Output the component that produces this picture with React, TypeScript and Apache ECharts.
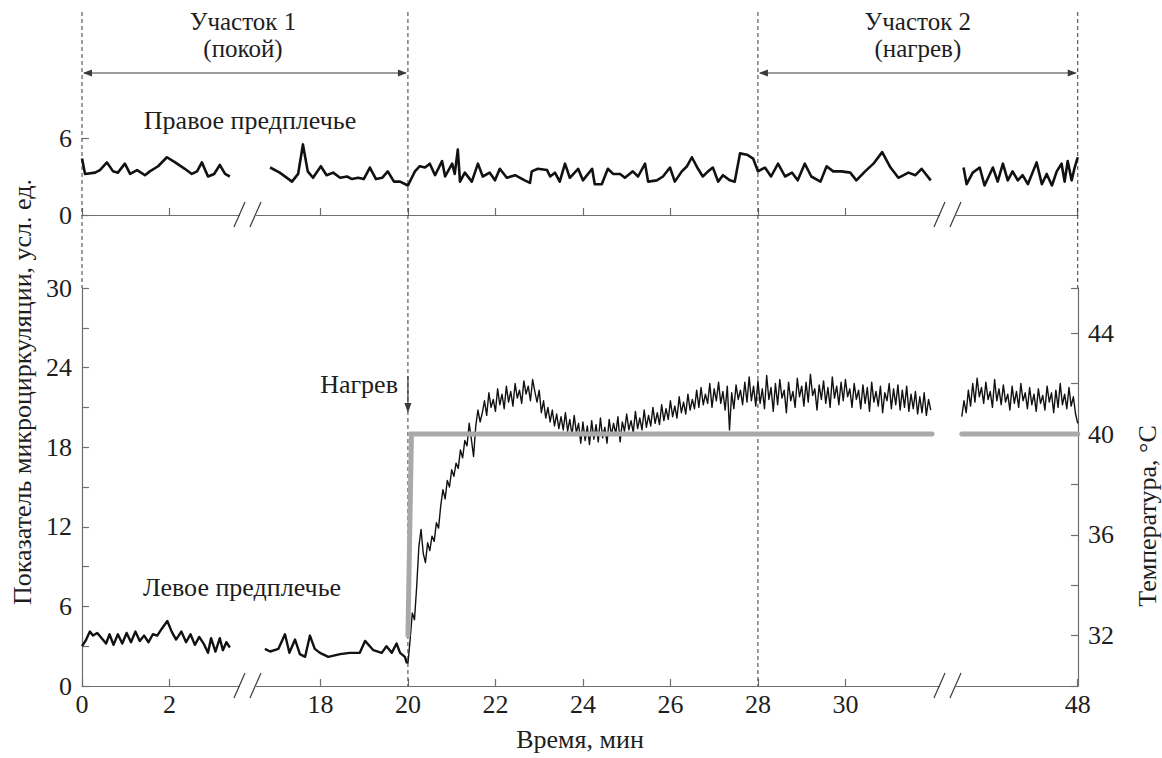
import React, { useEffect, useRef } from "react";
import * as echarts from "echarts";

const FONT = "'Liberation Serif', 'Times New Roman', serif";
const TEXT = "#1e1e1e";
const AXIS = "#6e6e6e";

// ---- broken time axis (real minutes -> compressed axis position) ----
const SEG_B_OFFSET = 12.55;
const SEG_C_OFFSET = 25.24;
const BREAK1_V = 3.794;
const BREAK2_V = 19.794;
const X_MAX_V = 22.766;
const toV = (t: number) => (t < 10 ? t : t < 40 ? t - SEG_B_OFFSET : t - SEG_C_OFFSET);
const fromV = (v: number) => (v < BREAK1_V ? v : v < BREAK2_V ? v + SEG_B_OFFSET : v + SEG_C_OFFSET);

const X_TICKS = [0, 2, 18, 20, 22, 24, 26, 28, 30, 48];
const MARK_TIMES = [0, 20, 28, 48];
const HEAT_START = 20;

// ---- Правое предплечье (top), [min, value] ----
const rightA: number[][] = [
  [0, 4.4], [0.07, 3.2], [0.3, 3.3], [0.41, 3.5], [0.57, 4.1], [0.71, 3.4], [0.82, 3.3], [0.98, 4.0],
  [1.1, 3.2], [1.26, 3.5], [1.44, 3.1], [1.55, 3.4], [1.74, 3.8], [1.94, 4.5], [2.13, 4.1], [2.35, 3.6],
  [2.51, 3.2], [2.63, 3.4], [2.74, 4.1], [2.88, 3.0], [3.02, 3.2], [3.15, 3.9], [3.27, 3.2], [3.38, 3.0],
];
const rightB: number[][] = [
  [16.85, 3.7], [17.07, 3.3], [17.35, 2.6], [17.49, 3.2], [17.6, 5.5], [17.71, 3.4], [17.83, 2.9], [18.01, 3.8],
  [18.14, 3.1], [18.29, 3.3], [18.45, 2.9], [18.61, 3.0], [18.72, 2.8], [18.86, 2.9], [18.99, 2.8], [19.13, 3.7],
  [19.27, 2.8], [19.41, 2.9], [19.54, 3.4], [19.68, 2.6], [19.82, 2.6], [20.0, 2.3], [20.16, 3.4], [20.27, 3.8],
  [20.39, 3.7], [20.5, 4.0], [20.62, 3.1], [20.78, 4.2], [20.85, 3.0], [21.01, 4.0], [21.07, 3.2], [21.14, 5.1],
  [21.19, 2.6], [21.3, 3.3], [21.46, 2.6], [21.6, 4.0], [21.71, 3.0], [21.87, 3.3], [21.99, 2.7], [22.1, 3.6],
  [22.26, 2.9], [22.45, 3.1], [22.67, 2.7], [22.79, 2.5], [22.83, 3.4], [22.97, 3.6], [23.18, 3.5], [23.25, 3.0],
  [23.36, 3.3], [23.47, 2.6], [23.59, 4.0], [23.7, 2.9], [23.89, 3.6], [24.0, 2.7], [24.21, 3.6], [24.27, 2.4],
  [24.43, 2.4], [24.57, 3.6], [24.69, 3.2], [24.85, 3.2], [24.96, 2.9], [25.14, 3.4], [25.26, 3.0], [25.42, 4.0],
  [25.49, 2.6], [25.69, 2.7], [25.83, 3.0], [25.99, 3.7], [26.1, 2.6], [26.26, 3.4], [26.38, 3.8], [26.49, 4.5],
  [26.63, 3.6], [26.74, 3.0], [26.86, 3.4], [26.97, 3.7], [27.09, 2.6], [27.2, 3.1], [27.36, 2.7], [27.47, 2.6],
  [27.59, 4.8], [27.75, 4.7], [27.89, 4.4], [28.0, 3.4], [28.16, 3.7], [28.3, 3.0], [28.46, 4.0], [28.62, 3.0],
  [28.78, 3.3], [28.91, 2.7], [29.07, 4.0], [29.22, 3.0], [29.43, 2.6], [29.57, 3.8], [29.72, 3.4], [29.91, 3.4],
  [30.11, 3.3], [30.25, 2.7], [30.45, 3.4], [30.64, 4.0], [30.84, 4.9], [31.03, 3.7], [31.21, 2.9], [31.44, 3.3],
  [31.6, 3.1], [31.74, 3.6], [31.95, 2.7],
];
const rightC: number[][] = [
  [45.39, 3.7], [45.46, 2.4], [45.6, 3.3], [45.76, 3.7], [45.87, 2.3], [46.06, 3.7], [46.17, 2.6], [46.29, 4.0],
  [46.4, 2.7], [46.51, 3.4], [46.63, 2.7], [46.74, 3.1], [46.86, 2.4], [47.06, 4.1], [47.18, 2.4], [47.29, 3.2],
  [47.41, 2.3], [47.52, 3.4], [47.63, 4.0], [47.7, 2.6], [47.77, 4.2], [47.86, 2.7], [47.93, 3.7], [48.0, 4.5],
];

// ---- Левое предплечье (bottom), [min, value] ----
const leftA: number[][] = [
  [0, 3.0], [0.08, 3.4], [0.18, 4.1], [0.25, 3.8], [0.35, 4.0], [0.45, 3.6], [0.55, 3.2], [0.63, 3.9],
  [0.72, 3.1], [0.82, 3.9], [0.92, 3.2], [1.02, 4.0], [1.12, 3.3], [1.22, 4.1], [1.32, 3.4], [1.42, 3.8],
  [1.52, 3.3], [1.62, 3.9], [1.72, 3.8], [1.82, 4.3], [1.95, 4.9], [2.05, 4.1], [2.15, 3.5], [2.27, 4.1],
  [2.38, 3.3], [2.48, 3.9], [2.58, 3.1], [2.68, 3.7], [2.78, 3.2], [2.88, 2.5], [2.95, 3.6], [3.05, 2.6],
  [3.15, 3.6], [3.22, 2.7], [3.3, 3.3], [3.38, 2.9],
];
const leftRest: number[][] = [
  [16.73, 2.8], [16.85, 2.6], [17.04, 2.8], [17.19, 3.9], [17.29, 2.5], [17.42, 3.5], [17.53, 2.4], [17.65, 2.2],
  [17.76, 3.8], [17.87, 2.8], [17.99, 2.5], [18.18, 2.2], [18.45, 2.4], [18.67, 2.5], [18.9, 2.5], [19.02, 3.4],
  [19.21, 2.7], [19.4, 2.5], [19.51, 3.0], [19.63, 2.5], [19.74, 3.2], [19.82, 2.5], [19.93, 2.2], [19.98, 1.7],
];
// heating period, sampled every 0.05 min from 20.00
const HEAT_T0 = 20.0;
const HEAT_C_T0 = 45.35;
const SAMPLE_STEP = 0.05;
const leftHeat: number[] = [
  1.7, 3.5, 5.5, 5.0, 7.5, 10.5, 11.8, 10.0, 9.3, 10.8, 10.2, 11.3, 10.9, 12.3, 11.9, 13.6, 14.8, 14.1, 15.5, 15.0,
  16.3, 15.8, 16.8, 16.4, 17.8, 17.2, 18.5, 18.1, 19.8, 18.6, 17.3, 19.6, 20.8, 19.9, 20.6, 21.5, 20.4, 22.1, 21.0, 21.6,
  20.7, 22.4, 21.2, 22.0, 20.9, 22.6, 21.4, 22.2, 21.1, 22.8, 21.7, 22.3, 21.3, 23.0, 22.0, 22.6, 21.5, 23.1, 22.2, 21.4,
  22.3, 20.6, 21.5, 20.2, 21.0, 19.9, 20.8, 19.6, 20.5, 19.4, 20.3, 19.3, 20.6, 19.2, 20.1, 18.9, 20.4, 19.1, 19.8, 18.3,
  19.9, 18.5, 19.6, 18.2, 20.0, 18.6, 19.7, 18.4, 20.2, 18.7, 19.5, 18.3, 20.1, 18.9, 19.8, 19.0, 20.3, 18.4, 19.9, 19.2,
  20.5, 19.3, 20.0, 19.1, 20.7, 19.4, 20.2, 19.3, 20.8, 19.5, 20.4, 19.6, 21.0, 19.8, 20.6, 19.7, 21.2, 20.0, 20.9, 20.1,
  21.5, 20.3, 21.1, 20.2, 21.8, 20.6, 21.4, 20.5, 22.0, 20.8, 21.6, 20.9, 22.3, 21.0, 22.5, 21.2, 22.0, 21.3, 22.8, 21.0,
  22.4, 21.5, 22.9, 21.3, 22.2, 20.8, 22.6, 19.3, 22.1, 20.9, 22.7, 21.6, 22.3, 21.2, 22.9, 21.4, 23.3, 21.5, 22.6, 21.1,
  23.0, 21.3, 22.4, 20.9, 23.4, 21.6, 22.5, 20.7, 22.8, 21.2, 23.1, 21.7, 22.3, 20.6, 22.9, 21.5, 22.2, 21.0, 23.2, 21.8,
  22.6, 21.1, 22.9, 21.4, 23.5, 21.9, 22.4, 20.8, 22.7, 21.6, 23.0, 21.3, 22.5, 21.0, 23.3, 21.7, 22.6, 21.2, 22.9, 21.5,
  23.1, 21.8, 22.4, 21.0, 22.8, 21.6, 22.3, 20.9, 22.7, 21.3, 22.5, 20.7, 22.9, 21.4, 22.2, 21.1, 22.6, 20.6, 22.1, 21.5,
  22.8, 20.9, 22.4, 21.2, 22.7, 20.8, 22.3, 21.0, 22.6, 20.7, 22.0, 20.9, 22.2, 20.5, 21.8, 20.6, 22.1, 20.4, 21.6, 20.8,
];
const leftC: number[] = [
  20.3, 21.5, 20.6, 22.3, 21.1, 22.8, 21.4, 23.2, 21.8, 22.5, 21.3, 22.9, 21.6, 22.2, 21.0, 23.1, 21.5, 22.4, 21.2, 22.7,
  21.4, 22.0, 20.8, 22.6, 21.3, 22.2, 21.0, 22.8, 21.5, 22.1, 20.9, 22.5, 21.2, 22.0, 20.7, 22.4, 21.3, 21.9, 20.8, 22.6,
  21.4, 22.1, 20.6, 22.3, 21.0, 22.8, 21.2, 22.0, 20.9, 22.5, 21.1, 21.8, 20.5, 19.8,
];

// ---- temperature, °C ----
const tempB: number[][] = [[20.0, 32], [20.08, 40], [31.98, 40]];
const tempC: number[][] = [[45.35, 40], [48.0, 40]];

const sampled = (t0: number, vals: number[]) => vals.map((v, i) => [t0 + i * SAMPLE_STEP, v]);
const mapV = (pts: number[][]) => pts.map(([t, v]) => [toV(t), v]);

const labelStyle = { fontFamily: FONT, fontSize: 26, color: TEXT };

export default function App() {
  const ref = useRef<HTMLDivElement>(null);
  useEffect(() => {
    if (!ref.current) return;
    const chart = echarts.init(ref.current, null, { renderer: "svg" });
    const tickVals = X_TICKS.map(toV);
    const xBase = (gridIndex: number, labels: boolean) => ({
      type: "value",
      gridIndex,
      min: 0,
      max: X_MAX_V,
      axisLine: { show: true, lineStyle: { color: AXIS, width: 1.2 } },
      axisTick: { show: true, inside: true, length: 7, customValues: tickVals, lineStyle: { color: AXIS, width: 1.2 } },
      axisLabel: {
        show: labels,
        customValues: tickVals,
        margin: 5,
        formatter: (v: number) => String(Math.round(fromV(v))),
        ...labelStyle,
      },
      splitLine: { show: false },
    });
    const black = (xi: number, yi: number, data: number[][], width: number, z = 3) => ({
      type: "line",
      xAxisIndex: xi,
      yAxisIndex: yi,
      data: mapV(data),
      showSymbol: false,
      symbol: "none",
      z,
      lineStyle: { color: "#111", width, join: "round" },
      silent: true,
    });
    const gray = (data: number[][]) => ({
      type: "line",
      xAxisIndex: 1,
      yAxisIndex: 2,
      data: mapV(data),
      showSymbol: false,
      symbol: "none",
      z: 5,
      lineStyle: { color: "#a9a9a9", width: 5, cap: "round", join: "miter" },
      silent: true,
    });
    chart.setOption({
      animation: false,
      backgroundColor: "#fff",
      grid: [
        { left: 82, right: 84, top: 138, height: 77 },
        { left: 82, right: 84, top: 288, height: 398 },
      ],
      xAxis: [
        { ...xBase(0, false) },
        {
          ...xBase(1, true),
          name: "Время, мин",
          nameLocation: "middle",
          nameGap: 40,
          nameTextStyle: labelStyle,
        },
      ],
      yAxis: [
        {
          type: "value",
          gridIndex: 0,
          min: 0,
          max: 6,
          interval: 6,
          axisLine: { show: false },
          axisTick: { show: true, inside: true, length: 7, lineStyle: { color: AXIS, width: 1.2 } },
          axisLabel: { margin: 10, ...labelStyle },
          splitLine: { show: false },
        },
        {
          type: "value",
          gridIndex: 1,
          min: 0,
          max: 30,
          interval: 3,
          axisLine: { show: true, lineStyle: { color: AXIS, width: 1.2 } },
          axisTick: { show: true, inside: true, length: 7, lineStyle: { color: AXIS, width: 1.2 } },
          axisLabel: { margin: 10, formatter: (v: number) => (v % 6 === 0 ? String(v) : ""), ...labelStyle },
          splitLine: { show: false },
        },
        {
          type: "value",
          gridIndex: 1,
          position: "right",
          min: 30,
          max: 45.8,
          interval: 2,
          axisLine: { show: true, lineStyle: { color: AXIS, width: 1.2 } },
          axisTick: { show: true, inside: true, length: 7, lineStyle: { color: AXIS, width: 1.2 } },
          axisLabel: {
            margin: 10,
            formatter: (v: number) => (v >= 32 && (v - 32) % 4 === 0 ? String(v) : ""),
            ...labelStyle,
          },
          splitLine: { show: false },
        },
      ],
      series: [
        black(0, 0, rightA, 2.6),
        black(0, 0, rightB, 2.6),
        black(0, 0, rightC, 2.6),
        black(1, 1, leftA, 2.4),
        black(1, 1, leftRest, 2.4),
        black(1, 1, sampled(HEAT_T0, leftHeat), 1.4),
        black(1, 1, sampled(HEAT_C_T0, leftC), 1.4),
        gray(tempB),
        gray(tempC),
      ],
    });

    // ---- annotations positioned through the axes ----
    const px = (t: number) => chart.convertToPixel({ xAxisIndex: 1 }, toV(t)) as number;
    const pv = (v: number) => chart.convertToPixel({ xAxisIndex: 1 }, v) as number;
    const yTop = (v: number) => chart.convertToPixel({ yAxisIndex: 0 }, v) as number;
    const yBot = (v: number) => chart.convertToPixel({ yAxisIndex: 1 }, v) as number;
    const LINE = "#3a3a3a";
    const g: any[] = [];
    const TOP_Y = 12;
    // dashed markers
    MARK_TIMES.forEach((t) => {
      const bottom = t === 0 || t === 48 ? yBot(30) : yBot(0);
      g.push({
        type: "line",
        z: 1,
        shape: { x1: px(t), y1: TOP_Y, x2: px(t), y2: bottom },
        style: { stroke: LINE, lineWidth: 1, lineDash: [4, 3] },
      });
    });
    // range arrows
    const arrowY = 73;
    const hArrow = (a: number, b: number) => {
      g.push({ type: "line", z: 10, shape: { x1: a + 2, y1: arrowY, x2: b - 2, y2: arrowY }, style: { stroke: LINE, lineWidth: 1.2 } });
      g.push({ type: "polygon", z: 10, shape: { points: [[a + 1, arrowY], [a + 10, arrowY - 3.5], [a + 10, arrowY + 3.5]] }, style: { fill: LINE } });
      g.push({ type: "polygon", z: 10, shape: { points: [[b - 1, arrowY], [b - 10, arrowY - 3.5], [b - 10, arrowY + 3.5]] }, style: { fill: LINE } });
    };
    hArrow(px(0), px(20));
    hArrow(px(28), px(48));
    const text = (x: number, y: number, s: string, align = "center", rotation = 0, size = 26) =>
      g.push({
        type: "text",
        z: 10,
        x,
        y,
        rotation,
        style: { text: s, x: 0, y: 0, fill: TEXT, font: `${size}px ${FONT}`, align, verticalAlign: "middle" },
      });
    const c1 = (px(0) + px(20)) / 2 - 2;
    const c2 = (px(28) + px(48)) / 2;
    text(c1, 21, "Участок 1", "center", 0, 25);
    text(c1, 48, "(покой)", "center", 0, 25);
    text(c2, 21, "Участок 2", "center", 0, 25);
    text(c2, 48, "(нагрев)", "center", 0, 25);
    text(250, 120, "Правое предплечье");
    text(242, 587, "Левое предплечье");
    text(px(HEAT_START) - 10, 384, "Нагрев", "right");
    text(22, 392, "Показатель микроциркуляции, усл. ед.", "center", Math.PI / 2);
    text(1147, 516, "Температура, °С", "center", Math.PI / 2);
    // heating arrow
    const hx = px(HEAT_START);
    g.push({ type: "line", z: 10, shape: { x1: hx, y1: 376, x2: hx, y2: 405 }, style: { stroke: LINE, lineWidth: 1.2 } });
    g.push({ type: "polygon", z: 10, shape: { points: [[hx, 413], [hx - 3.5, 403], [hx + 3.5, 403]] }, style: { fill: LINE } });
    // axis break marks
    [BREAK1_V, BREAK2_V].forEach((bv) => {
      const cx = pv(bv);
      [yTop(0), yBot(0)].forEach((ay) => {
        g.push({ type: "rect", z: 9, shape: { x: cx - 8, y: ay - 2, width: 16, height: 4 }, style: { fill: "#fff" } });
        g.push({ type: "line", z: 10, shape: { x1: cx - 14, y1: ay + 12, x2: cx - 3, y2: ay - 13 }, style: { stroke: LINE, lineWidth: 1.2 } });
        g.push({ type: "line", z: 10, shape: { x1: cx + 2, y1: ay + 12, x2: cx + 13, y2: ay - 13 }, style: { stroke: LINE, lineWidth: 1.2 } });
      });
    });
    chart.setOption({ graphic: g });
    return () => chart.dispose();
  }, []);
  return <div ref={ref} style={{ position: "fixed", left: 0, top: 0, width: 1162, height: 758, background: "#fff" }} />;
}
